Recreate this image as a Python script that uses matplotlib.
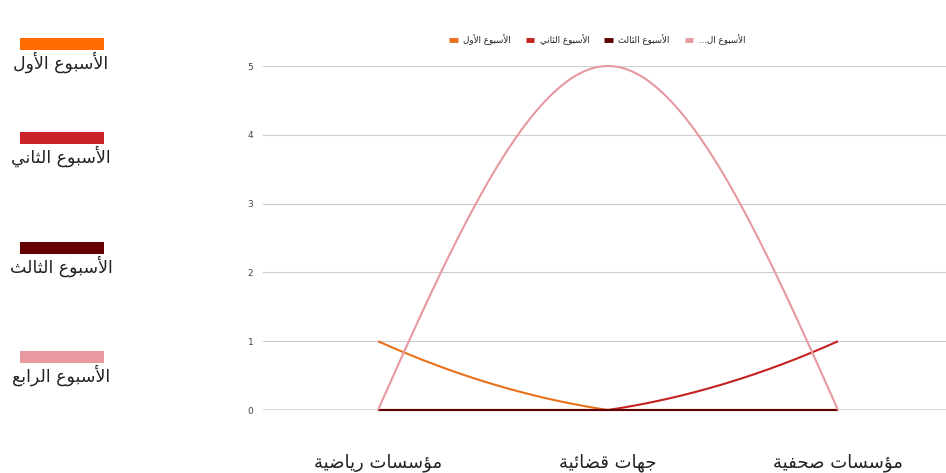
import numpy as np
import matplotlib
matplotlib.use("Agg")
import matplotlib.pyplot as plt
from matplotlib import rcParams
from matplotlib.lines import Line2D
from matplotlib.patches import Rectangle

rcParams["font.family"] = ["DejaVu Sans"]

categories = ["مؤسسات رياضية", "جهات قضائية", "مؤسسات صحفية"]
series_names = ["الأسبوع الأول", "الأسبوع الثاني", "الأسبوع الثالث", "الأسبوع الرابع"]
legend_labels = ["الأسبوع الأول", "الأسبوع الثاني", "الأسبوع الثالث", "الأسبوع ال..."]
week1 = [1, 0, 0]
week2 = [0, 0, 1]
week3 = [0, 0, 0]
week4 = [0, 5, 0]
line_colors = ["#e8711a", "#c5221f", "#5f0000", "#e69aa0"]
bar_colors = ["#ff6d00", "#cc2229", "#660000", "#e8989e"]
y_ticks = [0, 1, 2, 3, 4, 5]

# matplotlib has no arabic shaping: map letters to presentation forms by hand
FORMS = {
	"ا": (0xFE8D, 2), "أ": (0xFE83, 2), "ؤ": (0xFE85, 2), "ئ": (0xFE89, 4),
	"ب": (0xFE8F, 4), "ة": (0xFE93, 2), "ت": (0xFE95, 4), "ث": (0xFE99, 4),
	"ج": (0xFE9D, 4), "ح": (0xFEA1, 4), "ر": (0xFEAD, 2), "س": (0xFEB1, 4),
	"ص": (0xFEB9, 4), "ض": (0xFEBD, 4), "ع": (0xFEC9, 4), "ف": (0xFED1, 4),
	"ق": (0xFED5, 4), "ل": (0xFEDD, 4), "م": (0xFEE1, 4), "ن": (0xFEE5, 4),
	"ه": (0xFEE9, 4), "و": (0xFEED, 2), "ي": (0xFEF1, 4),
	"لا": (0xFEFB, 2), "لأ": (0xFEF7, 2),
}


def ar(s):
	toks = []
	i = 0
	while i < len(s):
		if s[i] == "ل" and i + 1 < len(s) and s[i + 1] in "اأ":
			toks.append(s[i:i + 2])
			i += 2
		else:
			toks.append(s[i])
			i += 1
	out = []
	for k, t in enumerate(toks):
		if t not in FORMS:
			out.append(t)
			continue
		base, n = FORMS[t]
		jp = k > 0 and toks[k - 1] in FORMS and FORMS[toks[k - 1]][1] == 4
		jn = n == 4 and k + 1 < len(toks) and toks[k + 1] in FORMS
		idx = 3 if (jp and jn) else 1 if jp else 2 if jn else 0
		out.append(chr(base + idx))
	return "".join(out)[::-1]


def smooth(ys, n=80):
	ys = np.asarray(ys, dtype=float)
	m = np.zeros(len(ys))
	m[1:-1] = 0.5 * (ys[2:] - ys[:-2])
	m[0] = 1.5 * (ys[1] - ys[0])
	m[-1] = 1.5 * (ys[-1] - ys[-2])
	xs_all, ys_all = [], []
	for i in range(len(ys) - 1):
		t = np.linspace(0, 1, n)
		if ys[i] == ys[i + 1]:
			y = np.full(n, ys[i])
		else:
			h00 = 2 * t**3 - 3 * t**2 + 1
			h10 = t**3 - 2 * t**2 + t
			h01 = -2 * t**3 + 3 * t**2
			h11 = t**3 - t**2
			y = h00 * ys[i] + h10 * m[i] + h01 * ys[i + 1] + h11 * m[i + 1]
		xs_all.append(i + t)
		ys_all.append(y)
	return np.concatenate(xs_all), np.concatenate(ys_all)


def main() -> None:
	W, H = 946, 473
	fig = plt.figure(figsize=(W / 100, H / 100), dpi=100)
	ax = fig.add_axes([263 / W, (H - 410) / H, 690 / W, 344 / H])

	for yv in y_ticks[1:]:
		ax.axhline(yv, color="#cccccc", lw=0.8, zorder=0)
	ax.axhline(0, color="#333333", lw=1.0, zorder=0)

	for vals, c in zip([week1, week2, week3, week4], line_colors):
		x, y = smooth(vals)
		ax.plot(x, y, color=c, lw=1.5, clip_on=False, solid_capstyle="butt")

	ax.set_xlim(-0.5, 2.5)
	ax.set_ylim(0, 5)
	ax.set_xticks(range(len(categories)))
	ax.set_xticklabels([ar(c) for c in categories], fontsize=13, color="#222222")
	ax.set_yticks(y_ticks)
	ax.set_yticklabels([str(v) for v in y_ticks], fontsize=6.5, color="#444444")
	ax.tick_params(axis="x", length=0, pad=31)
	ax.tick_params(axis="y", length=0, pad=7)
	for sp in ax.spines.values():
		sp.set_visible(False)

	handles = [Line2D([], [], color=c, lw=3.5, solid_capstyle="butt") for c in line_colors]
	fig.legend(handles, [ar(s) for s in legend_labels], ncol=4, frameon=False,
		loc="center", bbox_to_anchor=(597 / W, 1 - 40 / H), fontsize=6.3,
		handlelength=1.0, handletextpad=0.6, columnspacing=1.7, labelcolor="#222222")

	bar_tops = [38, 132, 242, 351]
	for top, c, name in zip(bar_tops, bar_colors, series_names):
		fig.add_artist(Rectangle((20 / W, 1 - (top + 12) / H), 84 / W, 12 / H,
			transform=fig.transFigure, color=c, lw=0))
		fig.text(61 / W, 1 - (top + 24) / H, ar(name), ha="center", va="center",
			fontsize=12.5, color="#222222")

	fig.savefig("out.png", dpi=100)


if __name__ == "__main__":
	main()
